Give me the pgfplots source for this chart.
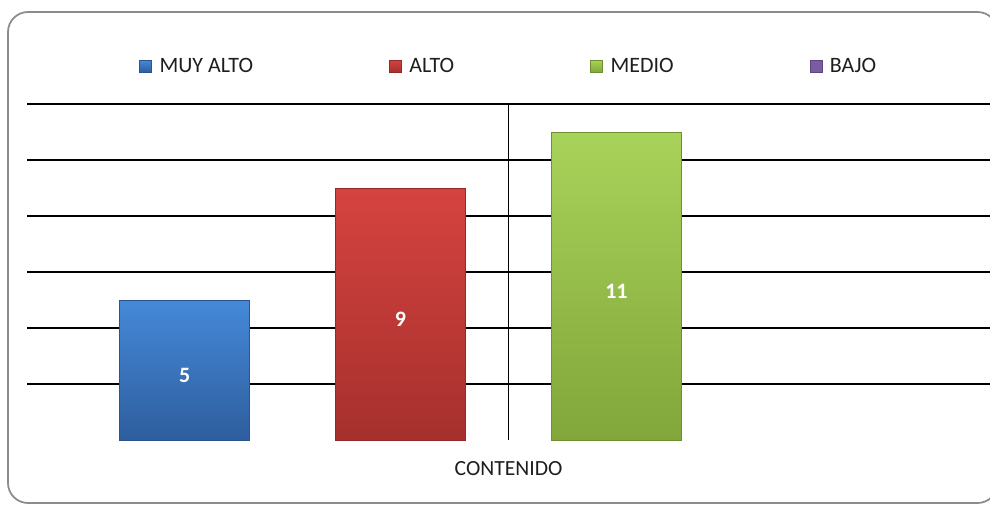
\documentclass[border=0pt]{standalone}
\usepackage{fontspec}
\setmainfont{Carlito}
\usepackage{pgfplots}
\pgfplotsset{compat=1.18}
\definecolor{blueT}{HTML}{4589D8}
\definecolor{blueB}{HTML}{2E5E9E}
\definecolor{blueD}{HTML}{2A5590}
\definecolor{redT}{HTML}{D5433F}
\definecolor{redB}{HTML}{A6302D}
\definecolor{redD}{HTML}{93292A}
\definecolor{greenT}{HTML}{A8D35A}
\definecolor{greenB}{HTML}{82A63A}
\definecolor{greenD}{HTML}{6F8F30}
\definecolor{purp}{HTML}{7A5CA3}
\definecolor{purpD}{HTML}{5E4580}
\definecolor{txt}{HTML}{1E1E1E}

\begin{document}
\begin{tikzpicture}
\useasboundingbox (0,0) rectangle (19.8cm,10.12cm);
\begin{scope}
\clip (0,0) rectangle (19.8cm,10.12cm);
\draw[black!45, line width=0.035cm, rounded corners=0.4cm] (0.16cm,0.06cm) rectangle (19.95cm,9.88cm);
\end{scope}
\begin{axis}[
    at={(0.54cm,1.32cm)}, anchor=south west,
    scale only axis,
    width=19.26cm, height=6.72cm,
    xmin=-2.23, xmax=2.23,
    ymin=0, ymax=12,
    ytick={2,4,...,12}, yticklabels={},
    xtick={0}, xticklabels={CONTENIDO},
    xticklabel style={font=\fontsize{12.3}{14}\selectfont, text=txt, yshift=-0.3cm},
    xmajorgrids, ymajorgrids,
    grid style={black, line width=0.032cm},
    axis line style={draw=none},
    major tick length=0pt,
    /pgf/number format/assume math mode=true,
    legend columns=4,
    legend style={at={(0.501,1.11)}, anchor=center, draw=none, fill=none,
        font=\fontsize{12.5}{14}\selectfont, text=txt,
        /tikz/every even column/.append style={column sep=2.65cm}},
    legend image code/.code={\draw[#1] (0cm,-0.1cm) rectangle (0.24cm,0.14cm);
        \path (0.32cm,0cm);},
    every axis plot/.append style={ybar, bar width=0.6, bar shift=0pt},
    nodes near coords,
    visualization depends on=y \as \rawy,
    every node near coord/.append style={anchor=center, text=white,
        font=\fontsize{12.5}{14}\selectfont\bfseries,
        shift={(axis direction cs:0,-\rawy/2)}, yshift=-0.1cm},
]
\addplot[draw=blueD, top color=blueT, bottom color=blueB] coordinates {(-1.5,5)};
\addlegendentry{MUY ALTO}
\addplot[draw=redD, top color=redT, bottom color=redB] coordinates {(-0.5,9)};
\addlegendentry{ALTO}
\addplot[draw=greenD, top color=greenT, bottom color=greenB] coordinates {(0.5,11)};
\addlegendentry{MEDIO}
\addlegendimage{draw=purpD, fill=purp}
\addlegendentry{BAJO}
\end{axis}
\end{tikzpicture}
\end{document}
